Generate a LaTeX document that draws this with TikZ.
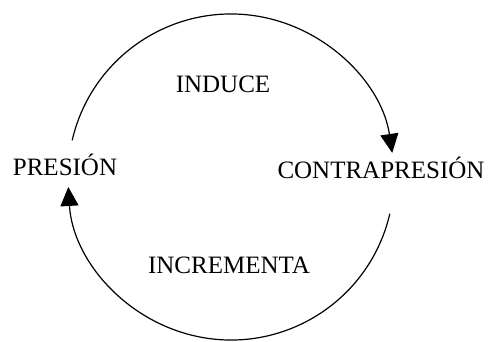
\documentclass[tikz,border=0pt]{standalone}
\usepackage{fontspec}
\setmainfont{Liberation Serif}
\usetikzlibrary{arrows.meta,calc}

\begin{document}
\begin{tikzpicture}[
  x=1pt,y=-1pt,
  >={Triangle[length=19pt,width=18pt]},
  %--- node styles ---
  word/.style ={font=\fontsize{25}{30}\selectfont,text=black,inner sep=0pt,anchor=base},
  %--- arrow styles ---
  flow/.style ={->,line width=1.2pt,draw=black},
]
\useasboundingbox (0,0) rectangle (491,341);

%==================== nodes ====================
\node[word] (pres)   at ( 65,175) {PRESIÓN};
\node[word] (contra) at (381,178) {CONTRAPRESIÓN};
\node[word] (induce) at (223, 92) {INDUCE};
\node[word] (incr)   at (229,273) {INCREMENTA};

%==================== cycle (y axis points down) ====================
\coordinate (ctr) at (231,177);
\coordinate (topA) at ($(ctr)+(-167:163)$);
\coordinate (botA) at ($(ctr)+(13:163)$);

\draw[flow] (topA) arc[start angle=-167,end angle=-8.5,radius=163];
\draw[flow] (botA) arc[start angle=13,end angle=176.5,radius=163];

\end{tikzpicture}
\end{document}
